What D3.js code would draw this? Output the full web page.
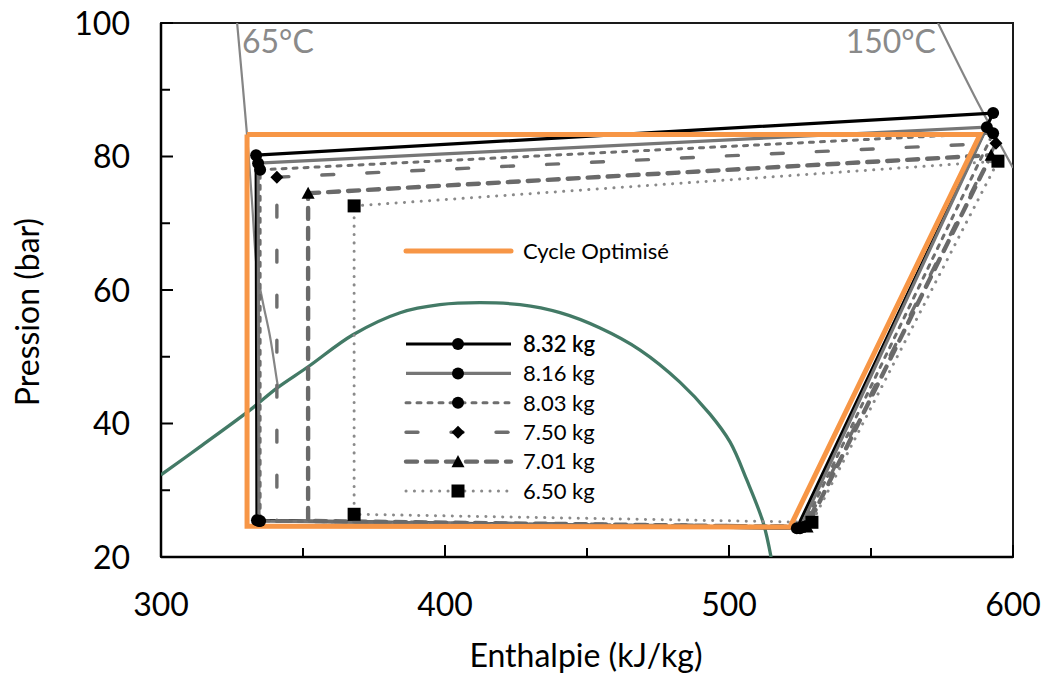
<!DOCTYPE html>
<html>
<head>
<meta charset="utf-8">
<script src="https://cdn.jsdelivr.net/npm/d3@7"></script>
<style>
  body { margin: 0; background: #fff; }
  svg { display: block; font-family: Lato, "Open Sans", sans-serif; }
</style>
</head>
<body>
<svg id="chart" width="1046" height="679"></svg>
<script>
// ---- data (enthalpy kJ/kg, pressure bar) ----
const seriesNames = ['8.32 kg', '8.16 kg', '8.03 kg', '7.50 kg', '7.01 kg', '6.50 kg'];
// corners of each cycle: top-left, top-right, bottom-right, bottom-left
const cycleH = [
  [333.5, 593.0, 523.9, 333.8],
  [334.2, 590.8, 525.0, 334.5],
  [334.9, 593.0, 526.1, 334.9],
  [340.8, 594.0, 526.8, 340.8],
  [351.8, 592.3, 527.5, 351.8],
  [368.0, 594.7, 529.2, 368.0]
];
const cycleP = [
  [80.2, 86.5, 24.3, 25.5],
  [79.0, 84.4, 24.3, 25.4],
  [78.0, 83.5, 24.5, 25.4],
  [76.9, 82.0, 24.6, 25.4],
  [74.5, 80.2, 24.5, 25.4],
  [72.6, 79.3, 25.2, 26.4]
];
const optimName = 'Cycle Optimisé';
const optimH = [330.3, 588.4, 521.5, 330.3];
const optimP = [83.3, 83.3, 24.5, 24.6];

// saturation dome
const domeH = [300.0, 313.7, 331.3, 340.8, 351.8, 367.6, 384.2, 398.2, 412.3, 426.4, 440.5, 454.6, 468.7, 482.7, 493.3, 500.4, 506.3, 512.0, 514.8];
const domeP = [32.3, 36.5, 42.0, 45.3, 48.5, 53.3, 56.6, 57.8, 58.1, 57.8, 56.6, 54.3, 51.0, 46.2, 41.4, 37.2, 31.5, 25.2, 20.0];

// isotherms
const iso65H = [326.8, 330.3, 332.0, 333.8, 335.9, 338.4, 340.8, 341.2];
const iso65P = [100.0, 83.2, 73.5, 63.0, 58.1, 53.0, 46.5, 45.5];
const iso150H = [573.6, 586.5, 600.0];
const iso150P = [100.0, 89.0, 78.3];
const isoLabels = ['65°C', '150°C'];

const xMajor = [300, 400, 500, 600];
const xMinor = [350, 450, 550];
const yMajor = [20, 40, 60, 80, 100];
const yMinor = [30, 50, 70, 90];

// ---- styles ----
const seriesStyle = [
  { color: '#000000', width: 3.2, dash: null, cap: 'butt', marker: 'circle' },
  { color: '#767676', width: 3.2, dash: null, cap: 'butt', marker: 'circle' },
  { color: '#6e6e6e', width: 3, dash: '4,7', cap: 'round', marker: 'circle' },
  { color: '#6e6e6e', width: 3.4, dash: '12,33', cap: 'round', marker: 'diamond' },
  { color: '#6a6a6a', width: 4.4, dash: '11,9', cap: 'round', marker: 'triangle' },
  { color: '#8a8a8a', width: 3, dash: '0.1,8.3', cap: 'round', marker: 'square' }
];
const skipMarkers = [[], [], [], [3], [3], []];

const svg = d3.select('#chart');
const margin = { left: 161, right: 1013, top: 23, bottom: 557 };

const x = d3.scaleLinear().domain([300, 600]).range([margin.left, margin.right]);
const y = d3.scaleLinear().domain([20, 100]).range([margin.bottom, margin.top]);

svg.append('defs').append('clipPath').attr('id', 'plot-clip')
  .append('rect')
  .attr('x', margin.left).attr('y', margin.top)
  .attr('width', margin.right - margin.left).attr('height', margin.bottom - margin.top);

// frame
svg.append('rect')
  .attr('x', margin.left).attr('y', margin.top)
  .attr('width', margin.right - margin.left).attr('height', margin.bottom - margin.top)
  .attr('fill', 'none').attr('stroke', '#1a1a1a').attr('stroke-width', 2);

// ticks (inside)
const ticks = svg.append('g').attr('stroke', '#000').attr('stroke-width', 2);
xMajor.forEach(v => ticks.append('line').attr('x1', x(v)).attr('x2', x(v)).attr('y1', margin.bottom).attr('y2', margin.bottom - 12));
xMinor.forEach(v => ticks.append('line').attr('x1', x(v)).attr('x2', x(v)).attr('y1', margin.bottom).attr('y2', margin.bottom - 9));
yMajor.forEach(v => ticks.append('line').attr('x1', margin.left).attr('x2', margin.left + 12).attr('y1', y(v)).attr('y2', y(v)));
yMinor.forEach(v => ticks.append('line').attr('x1', margin.left).attr('x2', margin.left + 9).attr('y1', y(v)).attr('y2', y(v)));

// axis lines
svg.append('line').attr('x1', margin.left).attr('x2', margin.right).attr('y1', margin.bottom).attr('y2', margin.bottom)
  .attr('stroke', '#000').attr('stroke-width', 2.5);
svg.append('line').attr('x1', margin.left).attr('x2', margin.left).attr('y1', margin.top).attr('y2', margin.bottom)
  .attr('stroke', '#000').attr('stroke-width', 2.5);

// tick labels
svg.append('g').selectAll('text').data(xMajor).enter().append('text')
  .attr('x', d => x(d)).attr('y', 616)
  .attr('text-anchor', 'middle').attr('font-size', 32).attr('fill', '#000')
  .text(d => d);
svg.append('g').selectAll('text').data(yMajor).enter().append('text')
  .attr('x', 130).attr('y', d => y(d)).attr('dy', '0.36em')
  .attr('text-anchor', 'end').attr('font-size', 32).attr('fill', '#000')
  .text(d => d);

// axis titles
svg.append('text')
  .attr('x', 586).attr('y', 667)
  .attr('text-anchor', 'middle').attr('font-size', 32).attr('fill', '#000')
  .text('Enthalpie (kJ/kg)');
svg.append('text')
  .attr('transform', 'translate(39,312) rotate(-90)')
  .attr('text-anchor', 'middle').attr('font-size', 32).attr('fill', '#000')
  .text('Pression (bar)');

const plot = svg.append('g').attr('clip-path', 'url(#plot-clip)');

const line = d3.line().x(d => x(d[0])).y(d => y(d[1]));
const smooth = d3.line().x(d => x(d[0])).y(d => y(d[1])).curve(d3.curveCatmullRom.alpha(0.5));

// saturation dome
plot.append('path')
  .datum(domeH.map((h, i) => [h, domeP[i]]))
  .attr('d', smooth)
  .attr('fill', 'none').attr('stroke', '#437a66').attr('stroke-width', 3.3);

// isotherms
plot.append('path')
  .datum(iso65H.map((h, i) => [h, iso65P[i]]))
  .attr('d', smooth)
  .attr('fill', 'none').attr('stroke', '#858585').attr('stroke-width', 2.2);
plot.append('path')
  .datum(iso150H.map((h, i) => [h, iso150P[i]]))
  .attr('d', smooth)
  .attr('fill', 'none').attr('stroke', '#858585').attr('stroke-width', 2.2);

svg.append('text').attr('x', 242).attr('y', 53)
  .attr('font-size', 32).attr('fill', '#8a8a8a').text(isoLabels[0]);
svg.append('text').attr('x', 936).attr('y', 53).attr('text-anchor', 'end')
  .attr('font-size', 32).attr('fill', '#8a8a8a').text(isoLabels[1]);

// marker shapes
function marker(g, type, cx, cy, s) {
  if (type === 'circle') {
    g.append('circle').attr('cx', cx).attr('cy', cy).attr('r', 6 * s).attr('fill', '#000');
  } else if (type === 'diamond') {
    const r = 6.5 * s;
    g.append('path').attr('d', `M${cx},${cy - r}L${cx + r},${cy}L${cx},${cy + r}L${cx - r},${cy}Z`).attr('fill', '#000');
  } else if (type === 'triangle') {
    const r = 6.5 * s;
    g.append('path').attr('d', `M${cx},${cy - r}L${cx + r},${cy + r * 0.85}L${cx - r},${cy + r * 0.85}Z`).attr('fill', '#000');
  } else if (type === 'square') {
    const r = 6.5 * s;
    g.append('rect').attr('x', cx - r).attr('y', cy - r).attr('width', 2 * r).attr('height', 2 * r).attr('fill', '#000');
  }
}

// cycle lines
const lines = svg.append('g');
cycleH.forEach((hs, k) => {
  const st = seriesStyle[k];
  const pts = hs.map((h, i) => [h, cycleP[k][i]]);
  lines.append('path')
    .datum(pts.concat([pts[0]]))
    .attr('d', line)
    .attr('fill', 'none')
    .attr('stroke', st.color)
    .attr('stroke-width', st.width)
    .attr('stroke-dasharray', st.dash)
    .attr('stroke-linecap', st.cap)
    .attr('stroke-linejoin', 'round');
});

// optimised cycle
const optPts = optimH.map((h, i) => [h, optimP[i]]);
svg.append('path')
  .datum(optPts.concat([optPts[0]]))
  .attr('d', line)
  .attr('fill', 'none').attr('stroke', '#f79646').attr('stroke-width', 5)
  .attr('stroke-linejoin', 'miter');

// markers
const marks = svg.append('g');
cycleH.forEach((hs, k) => {
  hs.forEach((h, i) => {
    if (skipMarkers[k].includes(i)) return;
    marker(marks, seriesStyle[k].marker, x(h), y(cycleP[k][i]), 1);
  });
});

// legend
const leg = svg.append('g');
leg.append('line').attr('x1', 406).attr('x2', 511).attr('y1', 251).attr('y2', 251)
  .attr('stroke', '#f79646').attr('stroke-width', 5).attr('stroke-linecap', 'round');
leg.append('text').attr('x', 523).attr('y', 251).attr('dy', '0.35em')
  .attr('font-size', 22).attr('fill', '#000').text(optimName);

seriesNames.forEach((name, k) => {
  const st = seriesStyle[k];
  const ly = 344 + k * 29.4;
  leg.append('line').attr('x1', 406).attr('x2', 511).attr('y1', ly).attr('y2', ly)
    .attr('stroke', st.color).attr('stroke-width', st.width)
    .attr('stroke-dasharray', st.dash).attr('stroke-linecap', st.cap);
  marker(leg, st.marker, 458, ly, 1);
  leg.append('text').attr('x', 523).attr('y', ly).attr('dy', '0.35em')
    .attr('font-size', 22).attr('fill', '#000')
    .attr('font-weight', k === 0 ? 600 : 400)
    .text(name);
});
</script>
</body>
</html>
